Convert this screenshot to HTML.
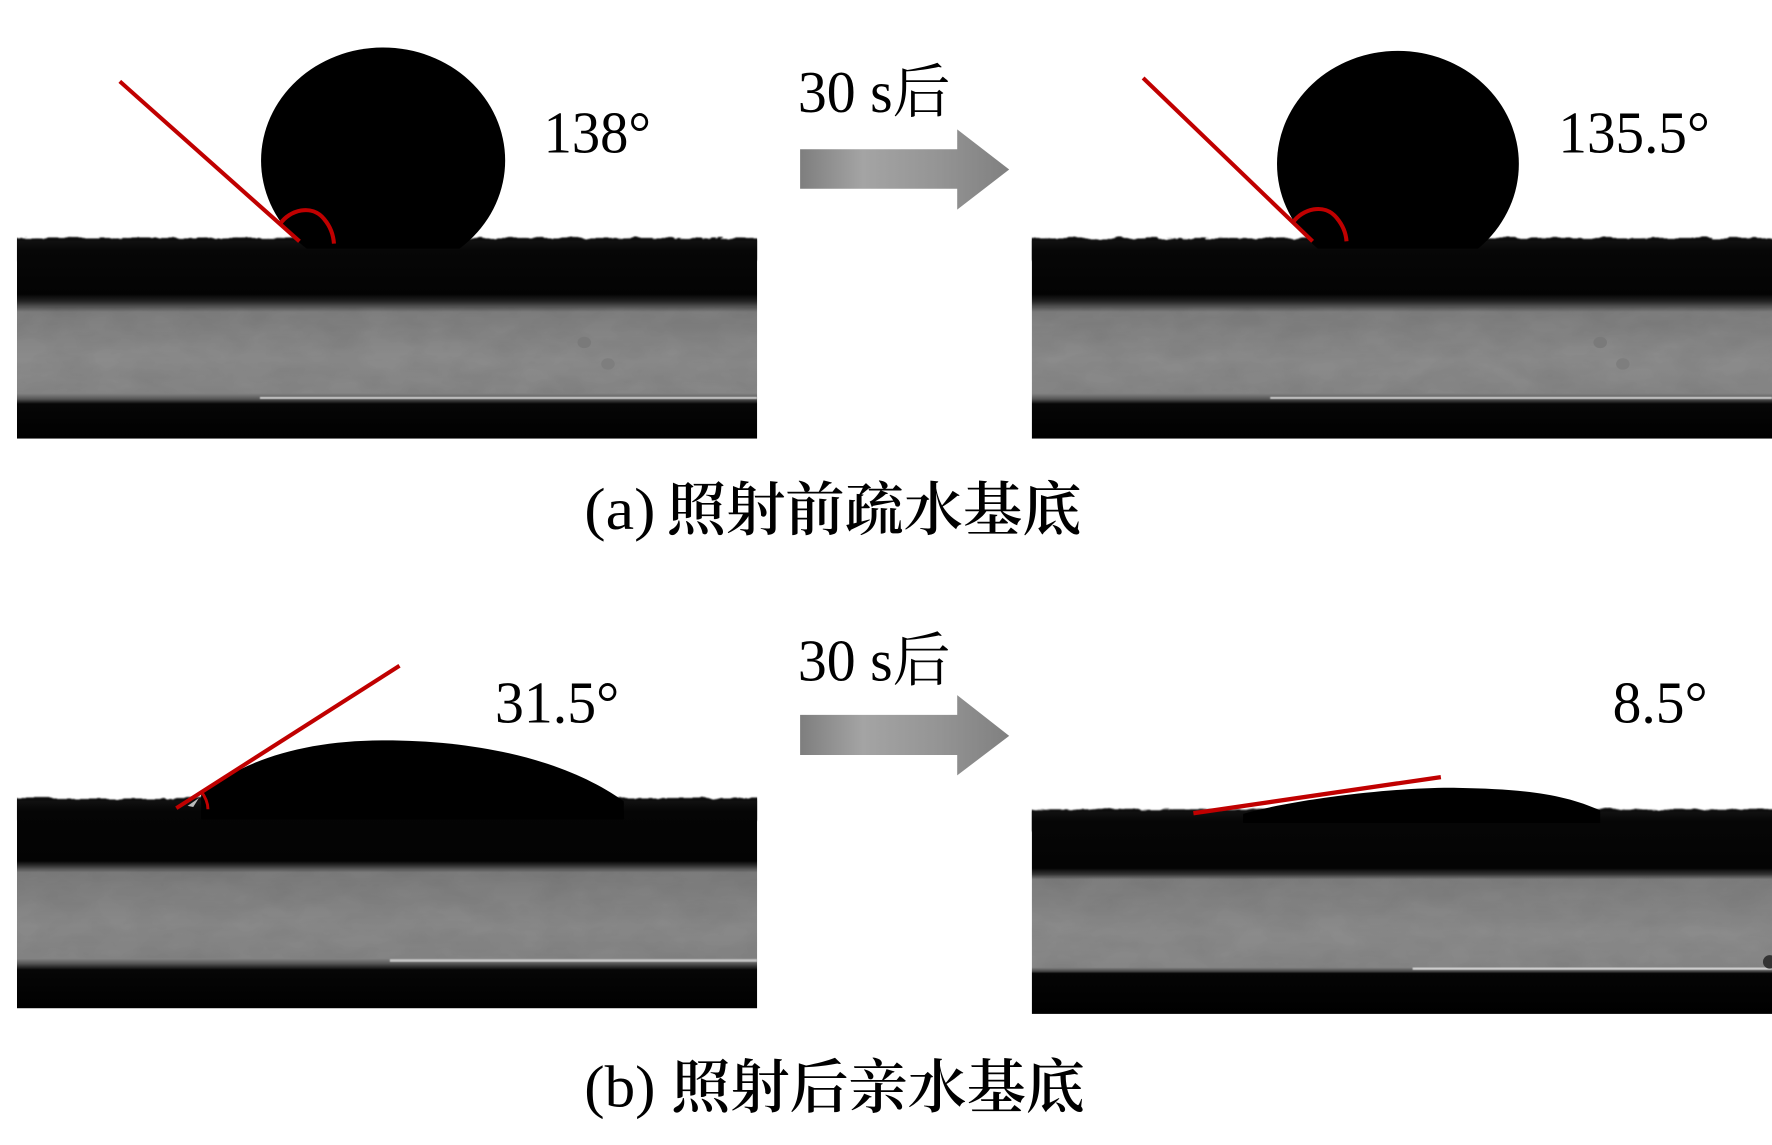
<!DOCTYPE html>
<html><head><meta charset="utf-8"><style>html,body{margin:0;padding:0;background:#fff}svg{display:block}
text{font-family:"Liberation Serif","Noto Serif CJK SC",serif;fill:#000}</style></head><body>
<svg xmlns="http://www.w3.org/2000/svg" width="1772" height="1145" viewBox="0 0 1568 1013" preserveAspectRatio="none">
<defs>
<filter id="rough" x="-2%" y="-10%" width="104%" height="120%"><feTurbulence type="fractalNoise" baseFrequency="0.07 0.2" numOctaves="3" seed="4"/><feDisplacementMap in="SourceGraphic" scale="5" xChannelSelector="R" yChannelSelector="G"/><feGaussianBlur stdDeviation="0.8"/></filter>
<filter id="soft"><feGaussianBlur stdDeviation="0.45"/></filter>
<filter id="mott" x="0" y="0" width="100%" height="100%"><feTurbulence type="fractalNoise" baseFrequency="0.025 0.05" numOctaves="3" seed="9"/><feColorMatrix values="0 0 0 0 0  0 0 0 0 0  0 0 0 0 0  0.7 0 0 0 -0.2"/></filter>
<linearGradient id="ga" x1="0" y1="0" x2="0" y2="1">
<stop offset="0" stop-color="#111"/><stop offset="0.05" stop-color="#070707"/><stop offset="0.27" stop-color="#030303"/><stop offset="0.305" stop-color="#222"/><stop offset="0.36" stop-color="#7e7e7e"/><stop offset="0.6" stop-color="#8b8b8b"/><stop offset="0.77" stop-color="#868686"/><stop offset="0.8" stop-color="#555"/><stop offset="0.825" stop-color="#060606"/><stop offset="1" stop-color="#000"/></linearGradient>
<linearGradient id="gb" x1="0" y1="0" x2="0" y2="1">
<stop offset="0" stop-color="#111"/><stop offset="0.05" stop-color="#050505"/><stop offset="0.29" stop-color="#030303"/><stop offset="0.31" stop-color="#2a2a2a"/><stop offset="0.345" stop-color="#7b7b7b"/><stop offset="0.6" stop-color="#898989"/><stop offset="0.76" stop-color="#848484"/><stop offset="0.785" stop-color="#555"/><stop offset="0.815" stop-color="#060606"/><stop offset="1" stop-color="#000"/></linearGradient>
<linearGradient id="gc" x1="0" y1="0" x2="0" y2="1">
<stop offset="0" stop-color="#111"/><stop offset="0.05" stop-color="#060606"/><stop offset="0.28" stop-color="#040404"/><stop offset="0.31" stop-color="#333"/><stop offset="0.335" stop-color="#7d7d7d"/><stop offset="0.6" stop-color="#8b8b8b"/><stop offset="0.77" stop-color="#868686"/><stop offset="0.79" stop-color="#444"/><stop offset="0.80" stop-color="#050505"/><stop offset="1" stop-color="#000"/></linearGradient>
<linearGradient id="arr" x1="0" y1="0" x2="1" y2="0">
<stop offset="0" stop-color="#7e7e7e"/><stop offset="0.3" stop-color="#a4a4a4"/><stop offset="0.65" stop-color="#959595"/><stop offset="1" stop-color="#808080"/></linearGradient>
<clipPath id="c1"><rect x="15" y="180" width="655" height="220"/></clipPath>
<clipPath id="c2"><rect x="913" y="180" width="655" height="220"/></clipPath>
<clipPath id="c3"><rect x="15" y="680" width="655" height="220"/></clipPath>
<clipPath id="c4"><rect x="913" y="680" width="655" height="225"/></clipPath>
<clipPath id="d1"><rect x="200" y="30" width="280" height="190"/></clipPath>
<clipPath id="d2"><rect x="1100" y="30" width="280" height="190"/></clipPath>
</defs>
<rect width="1568" height="1013" fill="#fff"/>

<!-- A1 -->
<g clip-path="url(#c1)">
<rect x="5" y="210.500" width="675" height="20" fill="#111" filter="url(#rough)"/>
<rect x="15" y="213" width="655" height="175" fill="url(#ga)"/>
<rect x="15" y="272" width="655" height="76" filter="url(#mott)" opacity=".14"/>
<rect x="230" y="351" width="440" height="2" fill="#c8c8c8" filter="url(#soft)"/>
<ellipse cx="517" cy="303" rx="6" ry="5" fill="#7a7a7a"/><ellipse cx="538" cy="322" rx="6" ry="5" fill="#7e7e7e"/>
</g>
<ellipse cx="339" cy="142" rx="108" ry="100" fill="#000" clip-path="url(#d1)"/>
<path d="M106 72L265 213.5" stroke="#c00000" stroke-width="3.600" fill="none"/>
<path d="M248 198C256 186 276 180 287 194C292 200 295 208 295.500 215.500" stroke="#c00000" stroke-width="3.600" fill="none"/>

<!-- A2 -->
<g clip-path="url(#c2)">
<rect x="903" y="210.500" width="675" height="20" fill="#111" filter="url(#rough)"/>
<rect x="913" y="213" width="655" height="175" fill="url(#ga)"/>
<rect x="913" y="272" width="655" height="76" filter="url(#mott)" opacity=".14"/>
<rect x="1124" y="351" width="444" height="2" fill="#c8c8c8" filter="url(#soft)"/>
<ellipse cx="1416" cy="303" rx="6" ry="5" fill="#7a7a7a"/><ellipse cx="1436" cy="322" rx="6" ry="5" fill="#7e7e7e"/>
</g>
<ellipse cx="1237" cy="145" rx="107" ry="100" fill="#000" clip-path="url(#d2)"/>
<path d="M1011.500 69L1161.500 213.500" stroke="#c00000" stroke-width="3.600" fill="none"/>
<path d="M1144 197C1152 185 1172 179 1183 193C1188 199 1191 206 1191.500 213.500" stroke="#c00000" stroke-width="3.600" fill="none"/>

<!-- B1 -->
<g clip-path="url(#c3)">
<rect x="5" y="706" width="675" height="20" fill="#111" filter="url(#rough)"/>
<rect x="15" y="708.500" width="655" height="183.500" fill="url(#gb)"/>
<rect x="15" y="770" width="655" height="78" filter="url(#mott)" opacity=".12"/>
<rect x="345" y="848.500" width="325" height="2.500" fill="#c4c4c4" filter="url(#soft)"/>
</g>
<path d="M178 703C215 672 270 655 340 655C430 655 505 675 552 709L552 725L178 725Z" fill="#000"/>
<path d="M166 713L176 706L171 714Z" fill="#bbb"/>
<path d="M156 715L353.500 589" stroke="#c00000" stroke-width="3.600" fill="none"/>
<path d="M177.500 699.500C181 704 184 709 184 716" stroke="#c00000" stroke-width="2.600" fill="none"/>

<!-- B2 -->
<g clip-path="url(#c4)">
<rect x="903" y="716" width="675" height="20" fill="#111" filter="url(#rough)"/>
<rect x="913" y="718" width="655" height="179" fill="url(#gc)"/>
<rect x="913" y="776" width="655" height="80" filter="url(#mott)" opacity=".12"/>
<rect x="1250" y="856" width="318" height="2" fill="#d4d4d4" filter="url(#soft)"/>
<ellipse cx="1566" cy="851" rx="6" ry="6" fill="#333"/>
</g>
<path d="M1100 720C1150 706 1240 696 1290 697C1350 698 1385 703 1416 717L1416 728L1100 728Z" fill="#000"/>
<path d="M1056 719.500L1275 687.500" stroke="#c00000" stroke-width="3.800" fill="none"/>

<!-- Arrows -->
<path d="M708 132H847V114.500L893 150L847 185.500V167H708Z" fill="url(#arr)"/>
<path d="M708 632.500H847V615L893 651L847 686V668H708Z" fill="url(#arr)"/>

<!-- Labels -->
<text x="481" y="135" font-size="52" textLength="95" lengthAdjust="spacingAndGlyphs">138°</text>
<text x="1379" y="135" font-size="52" textLength="134" lengthAdjust="spacingAndGlyphs">135.5°</text>
<text x="438" y="639" font-size="52" textLength="110" lengthAdjust="spacingAndGlyphs">31.5°</text>
<text x="1427" y="639" font-size="52" textLength="84" lengthAdjust="spacingAndGlyphs">8.5°</text>
<text x="706" y="99" font-size="52" textLength="135" lengthAdjust="spacingAndGlyphs">30 s后</text>
<text x="706" y="602" font-size="52" textLength="135" lengthAdjust="spacingAndGlyphs">30 s后</text>
<text x="517" y="468" font-size="52" textLength="63" lengthAdjust="spacingAndGlyphs">(a)</text>
<text x="590" y="469" font-size="52" font-weight="600" textLength="367" lengthAdjust="spacingAndGlyphs">照射前疏水基底</text>
<text x="517" y="979" font-size="52" textLength="63" lengthAdjust="spacingAndGlyphs">(b)</text>
<text x="594" y="980" font-size="52" font-weight="600" textLength="366" lengthAdjust="spacingAndGlyphs">照射后亲水基底</text>
</svg>
</body></html>
